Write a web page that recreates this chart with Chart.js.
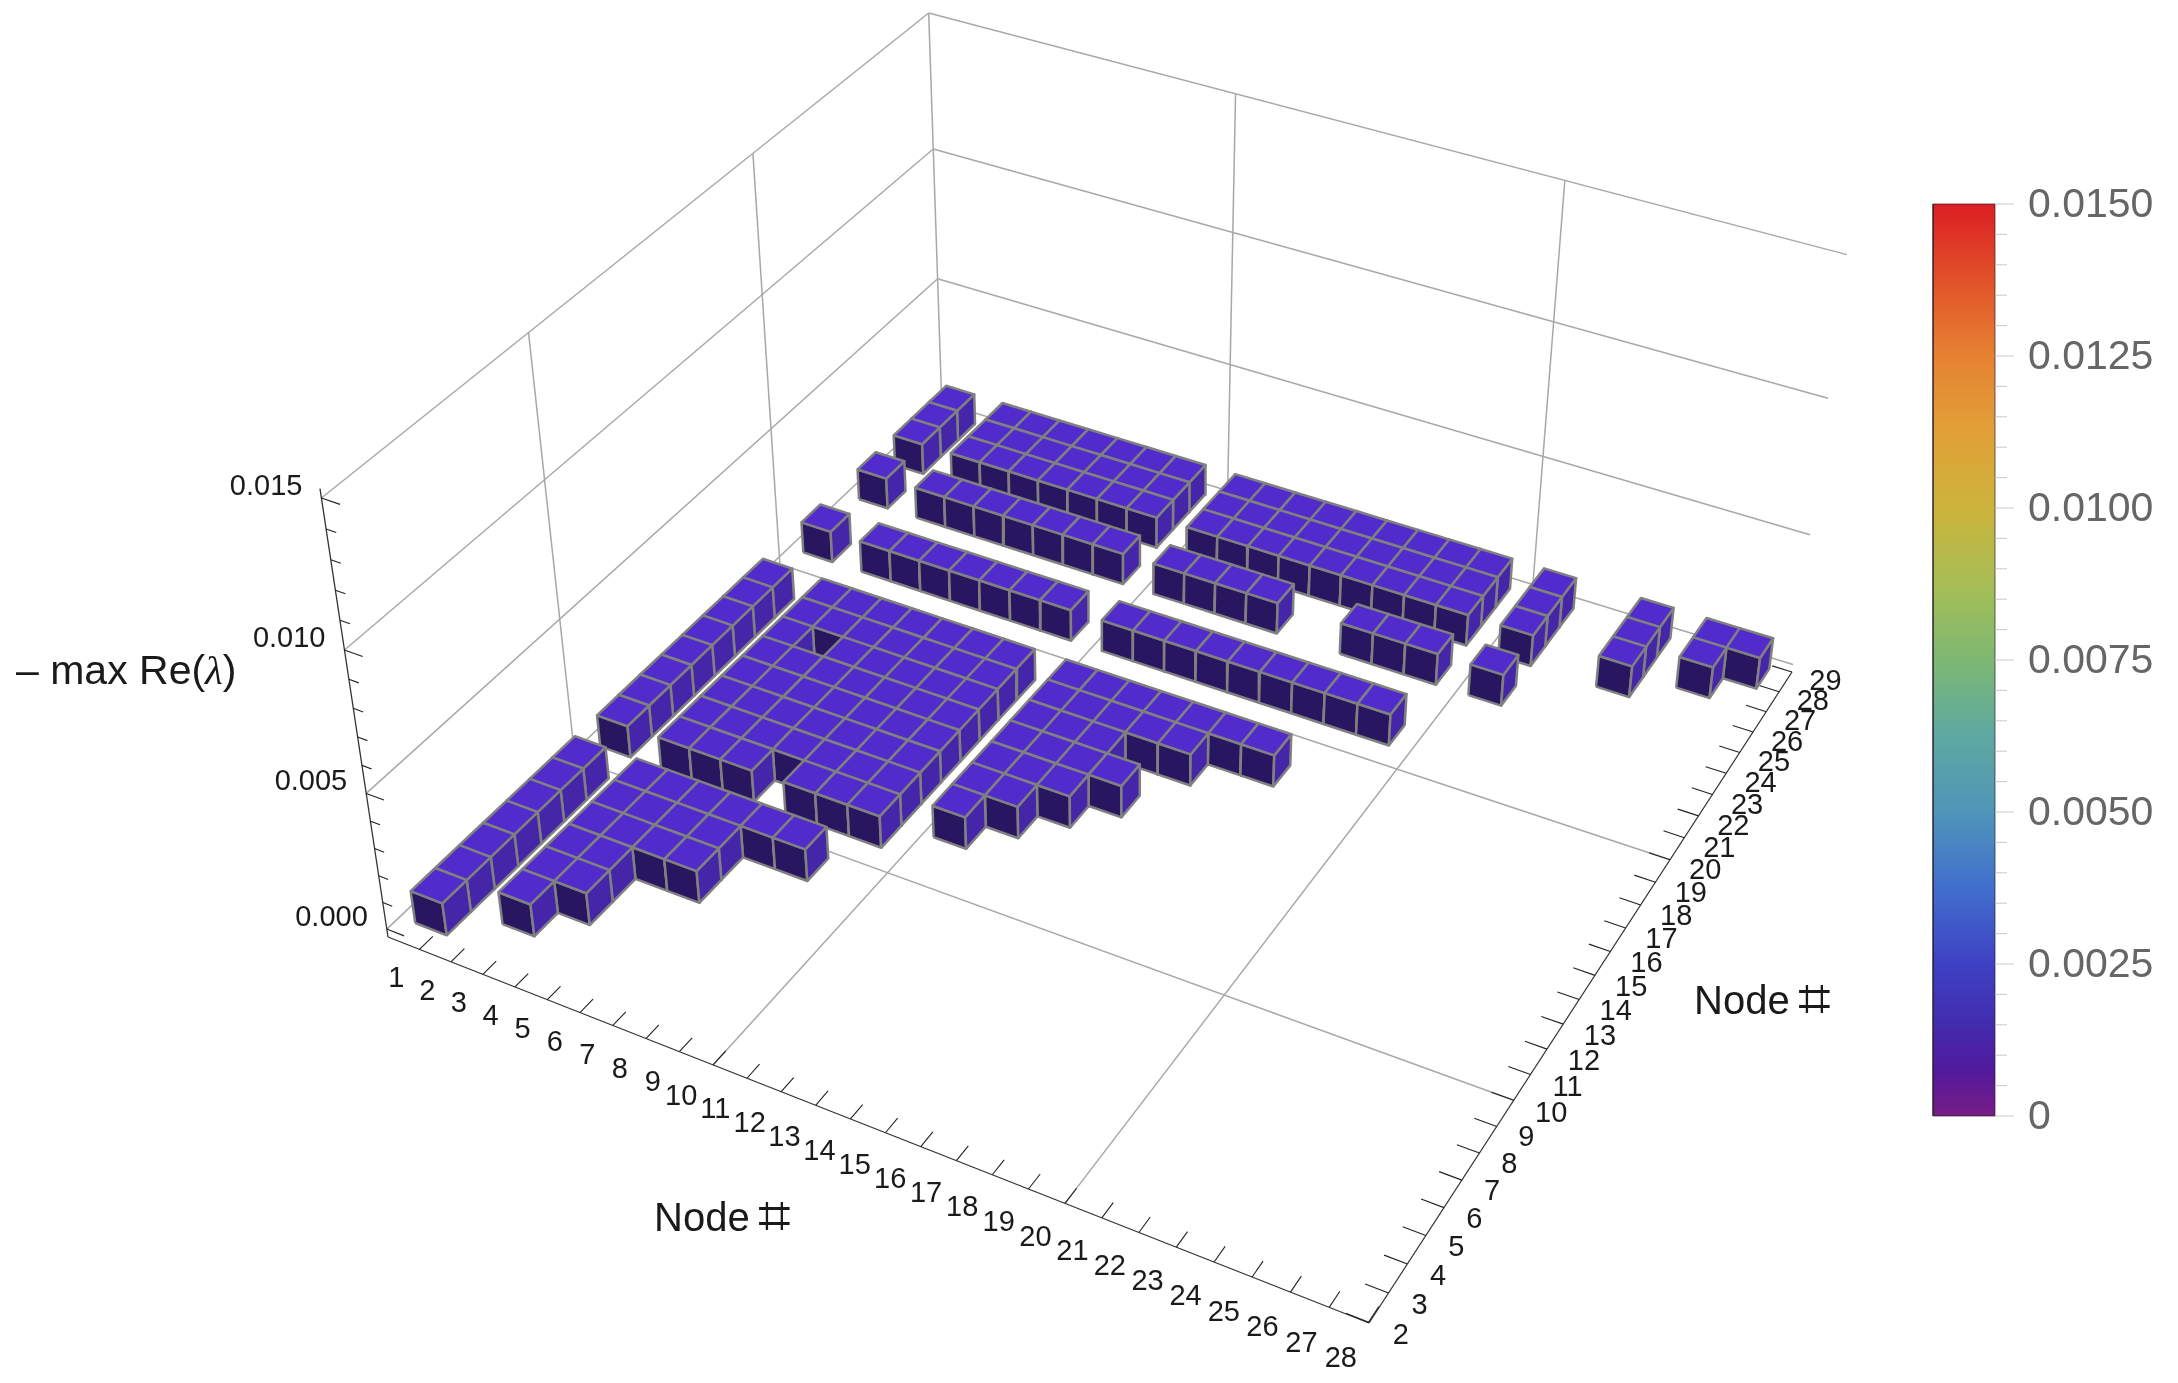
<!DOCTYPE html>
<html>
<head>
<meta charset="utf-8">
<title>Node stability map</title>
<script src="https://cdn.jsdelivr.net/npm/chart.js@4/dist/chart.umd.min.js"></script>
<style>
  html, body { margin: 0; padding: 0; background: #fff; }
  canvas { display: block; }
</style>
</head>
<body>
<canvas id="chart" width="2178" height="1383"></canvas>
<script>
// Data: for each row node j, the column nodes i that have a bar
const rowNodes = [3, 4, 5, 6, 7, 8, 9, 11, 12, 13, 14, 15, 16, 17, 18, 21, 24, 26, 27, 28];
const row3 = [1];
const row4 = [1, 3];
const row5 = [1, 3, 4];
const row6 = [1, 3, 4];
const row7 = [1, 3, 4, 5, 6];
const row8 = [1, 3, 4, 5, 6];
const row9 = [1, 3, 4, 5, 6, 7, 8];
const row11 = [1, 3, 4, 5, 7, 8, 9];
const row12 = [1, 3, 4, 5, 6, 7, 8, 9, 11];
const row13 = [1, 3, 4, 5, 6, 7, 8, 9, 11, 12];
const row14 = [1, 3, 4, 5, 6, 7, 8, 9, 11, 12, 13];
const row15 = [1, 3, 4, 5, 6, 7, 8, 9, 11, 12, 13, 14];
const row16 = [1, 3, 5, 6, 7, 8, 9, 11, 12, 13];
const row17 = [1, 3, 4, 5, 6, 7, 8, 9, 11, 12, 13, 14, 15];
const row18 = [1, 3, 4, 5, 6, 7, 8, 9, 11, 12, 13, 14, 15, 16, 17];
const row21 = [1, 3, 4, 5, 6, 7, 8, 9, 11, 12, 13, 14, 15, 16, 17, 18, 19];
const row24 = [1, 3, 4, 5, 6, 7, 8, 9, 11, 12, 13, 14, 17, 18, 19, 21];
const row26 = [1, 3, 4, 5, 6, 7, 8, 9, 11, 12, 13, 14, 15, 16, 17, 18, 19, 21, 24];
const row27 = [1, 3, 4, 5, 6, 7, 8, 9, 11, 12, 13, 14, 15, 16, 17, 18, 19, 21, 24, 26];
const row28 = [1, 3, 4, 5, 6, 7, 8, 9, 11, 12, 13, 14, 15, 16, 17, 18, 19, 21, 24, 26, 27];
const rowBars = [row3, row4, row5, row6, row7, row8, row9, row11, row12, row13, row14, row15, row16, row17, row18, row21, row24, row26, row27, row28];
const barValue = 0.0012; // all bars look the same height

const xTickNodes = [1, 2, 3, 4, 5, 6, 7, 8, 9, 10, 11, 12, 13, 14, 15, 16, 17, 18, 19, 20, 21, 22, 23, 24, 25, 26, 27, 28];
const yTickNodes = [2, 3, 4, 5, 6, 7, 8, 9, 10, 11, 12, 13, 14, 15, 16, 17, 18, 19, 20, 21, 22, 23, 24, 25, 26, 27, 28, 29];
const gridNodes = [10, 20];
const zTickValues = [0, 0.001, 0.002, 0.003, 0.004, 0.005, 0.006, 0.007, 0.008, 0.009, 0.01, 0.011, 0.012, 0.013, 0.014, 0.015];
const zGridValues = [0, 0.005, 0.01, 0.015];
const zLabels = ["0.000", "0.005", "0.010", "0.015"];
const colorTicks = [0, 0.0025, 0.005, 0.0075, 0.01, 0.0125, 0.015];
const colorLabels = ["0", "0.0025", "0.0050", "0.0075", "0.0100", "0.0125", "0.0150"];
const colorMinor = [0.0005, 0.001, 0.0015, 0.002, 0.003, 0.0035, 0.004, 0.0045, 0.0055, 0.006, 0.0065, 0.007, 0.008, 0.0085, 0.009, 0.0095, 0.0105, 0.011, 0.0115, 0.012, 0.013, 0.0135, 0.014, 0.0145];

// plot box limits
const xMin = 0, xMax = 28.02, yMin = 1.98, yMax = 29, zMin = -0.0003, zMax = 0.015;

// box corners on screen at floor level
const cornerA = [388, 937], cornerB = [1369, 1323], cornerC = [1792, 672], cornerD = [942, 410];
// wall grid line ends seen on screen, used to fit the height direction: x, y, z, px, py
const wallMarks = [
  [xMin, yMin, 0, 388, 928], [xMin, yMin, 0.005, 366, 792], [xMin, yMin, 0.01, 344, 650], [xMin, yMin, 0.015, 319, 499],
  [xMin, yMax, 0.005, 939, 278], [xMin, yMax, 0.01, 933, 153], [xMin, yMax, 0.015, 931, 14],
  [xMax, yMax, 0, 1792, 662], [xMax, yMax, 0.005, 1810, 532], [xMax, yMax, 0.01, 1827, 396], [xMax, yMax, 0.015, 1847, 253]
];

const COLORS = { top: "#512bcb", front: "#281660", side: "#4626a8", edge: "#808080", grid: "#a8a8a8", axis: "#333333", tick: "#222222" };

function solve3(m, v) {
  // plain gauss elimination, 3x3
  const a = m.map((row, k) => row.concat([v[k]]));
  for (let c = 0; c < 3; c++) {
    let p = c;
    for (let r = c + 1; r < 3; r++) if (Math.abs(a[r][c]) > Math.abs(a[p][c])) p = r;
    [a[c], a[p]] = [a[p], a[c]];
    for (let r = 0; r < 3; r++) {
      if (r === c) continue;
      const f = a[r][c] / a[c][c];
      for (let k = c; k < 4; k++) a[r][k] -= f * a[c][k];
    }
  }
  return [a[0][3] / a[0][0], a[1][3] / a[1][1], a[2][3] / a[2][2]];
}

// Camera matrix: floor from the corners, height column by least squares on wallMarks
function buildCamera() {
  const [x0, y0] = cornerA, [x1, y1] = cornerB, [x2, y2] = cornerC, [x3, y3] = cornerD;
  const dx1 = x1 - x2, dx2 = x3 - x2, sx = x0 - x1 + x2 - x3;
  const dy1 = y1 - y2, dy2 = y3 - y2, sy = y0 - y1 + y2 - y3;
  const den = dx1 * dy2 - dx2 * dy1;
  const g = (sx * dy2 - dx2 * sy) / den;
  const h = (dx1 * sy - sx * dy1) / den;
  const h1 = [x1 - x0 + g * x1, y1 - y0 + g * y1, g];
  const h2 = [x3 - x0 + h * x3, y3 - y0 + h * y3, h];
  const h3 = [x0, y0, 1];

  const ata = [[0, 0, 0], [0, 0, 0], [0, 0, 0]], atb = [0, 0, 0];
  const addRow = (row, rhs) => {
    for (let r = 0; r < 3; r++) {
      atb[r] += row[r] * rhs;
      for (let c = 0; c < 3; c++) ata[r][c] += row[r] * row[c];
    }
  };
  wallMarks.forEach(([x, y, z, u, v]) => {
    const X = (x - xMin) / (xMax - xMin), Y = (y - yMin) / (yMax - yMin), Z = (z - zMin) / (zMax - zMin);
    const b = [0, 1, 2].map(k => h1[k] * X + h2[k] * Y + h3[k]);
    addRow([Z, 0, -u * Z], u * b[2] - b[0]);
    addRow([0, Z, -v * Z], v * b[2] - b[1]);
  });
  const h4 = solve3(ata, atb);
  return { h1, h2, h3, h4 };
}
const camera = buildCamera();

// node i, node j, value -> position on the chart's x and y scales
function project(i, j, z) {
  const X = (i - xMin) / (xMax - xMin);
  const Y = (j - yMin) / (yMax - yMin);
  const Z = (z - zMin) / (zMax - zMin);
  const p = [0, 1, 2].map(k => camera.h1[k] * X + camera.h2[k] * Y + camera.h4[k] * Z + camera.h3[k]);
  return { x: p[0] / p[2], y: p[1] / p[2] };
}

const canvas = document.getElementById("chart");
const ctx = canvas.getContext("2d");
let datasets = [];

function addLine(points, color, width) {
  datasets.push({ data: points, showLine: true, fill: false, borderColor: color, borderWidth: width, pointRadius: 0 });
}
function addFace(points, color) {
  datasets.push({
    data: points.concat([points[0]]), showLine: true, fill: "shape", backgroundColor: color,
    borderColor: COLORS.edge, borderWidth: 2.5, borderJoinStyle: "round", pointRadius: 0
  });
}

// walls and floor grid
zGridValues.forEach(z => {
  addLine([project(xMin, yMin, z), project(xMin, yMax, z)], COLORS.grid, 1.5);
  addLine([project(xMin, yMax, z), project(xMax, yMax, z)], COLORS.grid, 1.5);
});
addLine([project(xMin, yMax, zMin), project(xMin, yMax, zMax)], COLORS.grid, 1.5);
gridNodes.forEach(n => {
  addLine([project(xMin, n, zMin), project(xMin, n, zMax)], COLORS.grid, 1.5);
  addLine([project(n, yMax, zMin), project(n, yMax, zMax)], COLORS.grid, 1.5);
  addLine([project(n, yMin, zMin), project(n, yMax, zMin)], COLORS.grid, 1.5);
  addLine([project(xMin, n, zMin), project(xMax, n, zMin)], COLORS.grid, 1.5);
});

// axes and their ticks
addLine([project(xMin, yMin, zMin), project(xMax, yMin, zMin)], COLORS.axis, 1.3);
addLine([project(xMax, yMin, zMin), project(xMax, yMax, zMin)], COLORS.axis, 1.3);
addLine([project(xMin, yMin, zMin), project(xMin, yMin, zMax + 0.0003)], COLORS.axis, 1.3);
xTickNodes.forEach(n => addLine([project(n, yMin, zMin), project(n, yMin + 0.55, zMin)], COLORS.tick, 1.1));
yTickNodes.forEach(n => addLine([project(xMax, n, zMin), project(xMax - 0.6, n, zMin)], COLORS.tick, 1.1));
zTickValues.forEach((z, k) => {
  const len = k % 5 === 0 ? 0.55 : 0.3;
  addLine([project(xMin, yMin, z), project(xMin + len, yMin, z)], COLORS.tick, 1.1);
});

// bars, far ones first so the near ones paint over them
for (let r = rowNodes.length - 1; r >= 0; r--) {
  const j = rowNodes[r];
  rowBars[r].forEach(i => {
    const l = i - 0.5, R = i + 0.5, f = j - 0.5, b = j + 0.5;
    addFace([project(l, f, 0), project(R, f, 0), project(R, f, barValue), project(l, f, barValue)], COLORS.front);
    addFace([project(R, f, 0), project(R, b, 0), project(R, b, barValue), project(R, f, barValue)], COLORS.side);
    addFace([project(l, f, barValue), project(R, f, barValue), project(R, b, barValue), project(l, b, barValue)], COLORS.top);
  });
}

// colour legend
const legendLeft = 1933, legendRight = 1995, legendTop = 204, legendBottom = 1116;
function legendY(v) {
  return legendBottom - (v / 0.015) * (legendBottom - legendTop);
}
const rainbow = ctx.createLinearGradient(0, legendBottom, 0, legendTop);
[[0, "#781c86"], [0.05, "#521a9c"], [0.1, "#432cae"], [0.167, "#3e41c3"], [0.25, "#416fcd"], [0.333, "#4f95b9"],
 [0.42, "#5ea9a0"], [0.5, "#7db873"], [0.58, "#a5be55"], [0.667, "#cdb43c"], [0.75, "#e1a037"], [0.833, "#e68232"],
 [0.92, "#e15028"], [1, "#dc1e23"]].forEach(s => rainbow.addColorStop(s[0], s[1]));
datasets.push({
  data: [
    { x: legendLeft, y: legendBottom }, { x: legendRight, y: legendBottom },
    { x: legendRight, y: legendTop }, { x: legendLeft, y: legendTop }, { x: legendLeft, y: legendBottom }
  ],
  showLine: true, fill: "shape", backgroundColor: rainbow, borderColor: "rgba(40,30,40,0.7)", borderWidth: 1, pointRadius: 0
});
colorTicks.forEach(v => addLine([{ x: legendRight, y: legendY(v) }, { x: legendRight + 19, y: legendY(v) }], "#c8c8c8", 1));
colorMinor.forEach(v => addLine([{ x: legendRight, y: legendY(v) }, { x: legendRight + 12, y: legendY(v) }], "#c8c8c8", 1));

// tick labels and titles are drawn on top through the same scales
const labelPlugin = {
  id: "labels",
  afterDraw(chart) {
    const c = chart.ctx, sx = chart.scales.x, sy = chart.scales.y;
    const put = (p, text, dx, dy) => c.fillText(text, sx.getPixelForValue(p.x) + (dx || 0), sy.getPixelForValue(p.y) + (dy || 0));
    // title with the big sharp sign the original uses
    const nodeTitle = (x, y) => {
      c.textAlign = "left";
      c.font = '40px "Liberation Sans"';
      put({ x, y }, "Node ");
      const w = c.measureText("Node ").width;
      c.font = '58px "DejaVu Sans"';
      put({ x: x + w - 3, y }, "\u2317", 0, 1);
    };
    c.save();
    c.fillStyle = "#1a1a1a";
    c.textBaseline = "middle";
    c.textAlign = "center";
    c.font = '29px "Liberation Sans"';
    xTickNodes.forEach(n => put(project(n, yMin - 1.15, zMin), String(n), n < 10 ? 6 - n * 0.6 : -5, 2));
    yTickNodes.forEach(n => put(project(xMax + 1, n, zMin), String(n), n < 10 ? -8 : 0, n < 10 ? -2 : 0));
    c.textAlign = "right";
    zGridValues.forEach((z, k) => put(project(xMin, yMin, z), zLabels[k], -19, -11));
    nodeTitle(654, 1220);
    nodeTitle(1694, 1003);
    c.textAlign = "left";
    c.font = '41px "Liberation Sans"';
    const label = "\u2013 max Re(";
    put({ x: 16, y: 673 }, label);
    let w = c.measureText(label).width;
    c.font = 'italic 41px "Liberation Serif"';
    put({ x: 16 + w, y: 673 }, "\u03bb");
    w += c.measureText("\u03bb").width;
    c.font = '41px "Liberation Sans"';
    put({ x: 16 + w, y: 673 }, ")");
    c.fillStyle = "#666666";
    colorTicks.forEach((v, k) => put({ x: 2028, y: legendY(v) + 2 }, colorLabels[k]));
    c.restore();
  }
};

// Chart.js paints the first dataset last, so flip the list
new Chart(ctx, {
  type: "scatter",
  data: { datasets: datasets.reverse() },
  options: {
    responsive: false,
    animation: false,
    layout: { padding: 0 },
    plugins: { legend: { display: false }, tooltip: { enabled: false } },
    scales: {
      x: { type: "linear", min: 0, max: 2178, display: false },
      y: { type: "linear", min: 0, max: 1383, reverse: true, display: false }
    }
  },
  plugins: [labelPlugin]
});
</script>
</body>
</html>
